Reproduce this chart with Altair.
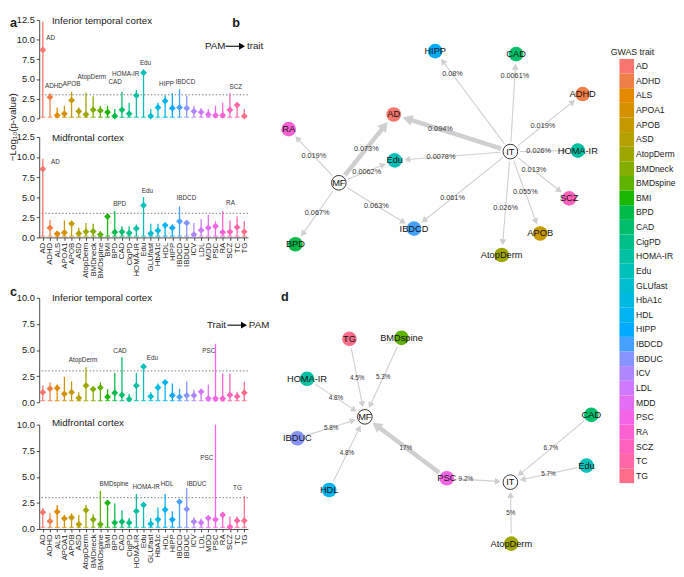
import math
import altair as alt
import pandas as pd

FONT = "Liberation Sans"

traits = ["AD", "ADHD", "ALS", "APOA1", "APOB", "ASD", "AtopDerm", "BMDneck", "BMDspine",
          "BMI", "BPD", "CAD", "CigPD", "HOMA-IR", "Edu", "GLUfast", "HbA1c", "HDL", "HIPP",
          "IBDCD", "IBDUC", "ICV", "LDL", "MDD", "PSC", "RA", "SCZ", "TC", "TG"]

# ---- violin summaries: top of each violin and its widest (modal) point, -log10 p ----
a_it_hi = [12.3, 3.2, 1.4, 1.6, 3.4, 1.4, 3.3, 2.8, 1.6, 1.6, 1.2, 3.4, 2.0, 3.6, 6.2,
           1.2, 2.0, 2.9, 3.2, 3.7, 2.9, 1.6, 1.3, 1.2, 1.6, 2.0, 3.2, 2.0, 1.2]
a_it_mid = [8.7, 2.7, 0.4, 0.6, 2.3, 0.9, 0.5, 1.1, 1.0, 0.8, 0.3, 1.1, 0.6, 2.9, 5.8,
            0.3, 1.4, 2.2, 1.3, 1.4, 1.3, 0.9, 0.8, 0.5, 0.4, 0.4, 1.1, 1.7, 0.3]
a_mf_hi = [9.8, 2.2, 0.8, 2.1, 2.0, 1.2, 1.8, 1.7, 0.8, 2.7, 3.3, 1.4, 1.4, 1.6, 5.0,
           1.7, 1.7, 1.8, 1.6, 3.85, 2.0, 1.8, 2.3, 2.8, 2.0, 3.3, 2.1, 2.6, 2.0]
a_mf_mid = [8.5, 1.2, 0.45, 0.6, 1.7, 0.5, 0.7, 0.75, 0.35, 2.6, 0.65, 0.7, 0.55, 1.1, 4.0,
            0.5, 0.85, 1.5, 1.2, 2.0, 1.8, 0.35, 0.9, 1.2, 1.4, 0.65, 0.7, 1.25, 0.7]
c_it_hi = [1.6, 1.9, 1.7, 2.45, 2.0, 0.95, 3.35, 1.5, 1.9, 1.25, 2.8, 4.3, 0.8, 2.8, 3.6,
           0.95, 1.8, 1.95, 1.8, 1.3, 2.0, 1.2, 1.3, 1.7, 5.6, 2.75, 2.75, 1.0, 1.95]
c_it_mid = [0.95, 1.3, 1.35, 0.8, 0.95, 0.4, 1.6, 1.25, 1.4, 0.5, 0.9, 0.7, 0.3, 1.6, 3.4,
            0.55, 1.4, 1.9, 0.65, 0.5, 0.65, 0.65, 1.0, 0.35, 0.35, 0.35, 0.7, 0.55, 0.9]
c_mf_hi = [2.0, 1.5, 2.3, 1.35, 1.5, 1.35, 2.3, 1.4, 3.65, 2.75, 2.45, 1.8, 1.05, 3.35, 2.45,
           1.05, 2.05, 3.35, 1.7, 2.75, 3.9, 1.1, 1.0, 1.2, 10.0, 1.6, 1.2, 1.2, 3.15]
c_mf_mid = [1.6, 0.75, 1.65, 1.0, 1.1, 0.45, 1.8, 0.9, 0.45, 2.5, 0.6, 0.7, 0.6, 1.7, 2.3,
            0.5, 0.9, 1.85, 0.9, 2.6, 1.9, 0.7, 0.6, 1.05, 0.9, 1.35, 0.2, 0.8, 0.8]
violin_base = 0.15
threshold = 3.0

# significant-trait labels: (trait, height in -log10 p)
a_it_labels = [("AD", 10.2), ("ADHD", 4.1), ("APOB", 4.4), ("AtopDerm", 5.3), ("CAD", 4.6),
               ("HOMA-IR", 5.6), ("Edu", 7.0), ("HIPP", 4.3), ("IBDCD", 4.6), ("SCZ", 4.0)]
a_mf_labels = [("AD", 9.4), ("BPD", 4.1), ("Edu", 5.8), ("IBDCD", 4.9), ("RA", 4.25)]
c_it_labels = [("AtopDerm", 4.0), ("CAD", 4.9), ("Edu", 4.26), ("PSC", 4.9)]
c_mf_labels = [("BMDspine", 4.3), ("HOMA-IR", 4.0), ("HDL", 4.35), ("IBDUC", 4.35),
               ("PSC", 6.75), ("TG", 3.9)]
# small horizontal nudges of the labels (px), like ggrepel placement
nudge = {"a_it": [8, 4, 0, 6, -7, -11, 2, -6, 6, 6],
         "a_mf": [13, 5, 4, 7, 8],
         "c_it": [-3, -2, 9, -7],
         "c_mf": [14, 10, 2, 10, -9, -7]}

# ---- network b: PAM -> trait (layout coordinates) ----
b_nodes = ["MF", "IT", "AD", "Edu", "RA", "BPD", "IBDCD", "HIPP", "CAD", "ADHD",
           "HOMA-IR", "SCZ", "APOB", "AtopDerm"]
b_x = [341, 519, 398, 399, 289, 296, 419, 441, 525, 594, 589, 580, 550, 510]
b_y = [177, 145, 107, 154, 122, 240, 224, 42, 45, 86, 144, 193, 229, 251]
b_src = ["MF"] * 5 + ["IT"] * 10
b_dst = ["RA", "AD", "Edu", "IBDCD", "BPD", "AD", "Edu", "IBDCD", "HIPP", "CAD",
         "ADHD", "HOMA-IR", "SCZ", "APOB", "AtopDerm"]
b_lab = ["0.019%", "0.073%", "0.0062%", "0.063%", "0.067%", "0.094%", "0.0078%", "0.061%",
         "0.08%", "0.0061%", "0.019%", "0.026%", "0.013%", "0.055%", "0.026%"]
b_strong = [0, 1, 0, 0, 0, 1, 0, 0, 0, 0, 0, 0, 0, 0, 0]
b_t = [0.5, 0.5, 0.5, 0.5, 0.5, 0.6, 0.6, 0.6, 0.77, 0.77, 0.45, 0.42, 0.4, 0.5, 0.55]

# ---- network d: trait -> PAM (layout coordinates) ----
d_nodes = ["MF", "IT", "TG", "BMDspine", "HOMA-IR", "IBDUC", "HDL", "PSC", "CAD", "Edu", "AtopDerm"]
d_x = [368, 519, 352, 406, 308, 298, 331, 453, 603, 598, 520]
d_y = [417, 484, 337, 336, 378, 439, 492, 480, 415, 467, 547]
d_src = ["TG", "BMDspine", "HOMA-IR", "IBDUC", "HDL", "PSC", "PSC", "CAD", "Edu", "AtopDerm"]
d_dst = ["MF"] * 6 + ["IT"] * 4
d_lab = ["4.5%", "5.3%", "4.8%", "5.8%", "4.8%", "17%", "9.2%", "6.7%", "5.7%", "5%"]
d_strong = [0, 0, 0, 0, 0, 1, 0, 0, 0, 0]
d_t = [0.5, 0.5, 0.5, 0.5, 0.5, 0.5, 0.3, 0.5, 0.5, 0.5]


# ---- ggplot default hue palette ----
def hcl_hex(h, c=100.0, l=65.0):
    Xn, Yn, Zn = 95.047, 100.0, 108.883
    un = 4 * Xn / (Xn + 15 * Yn + 3 * Zn)
    vn = 9 * Yn / (Xn + 15 * Yn + 3 * Zn)
    hr = math.radians(h)
    U, V = c * math.cos(hr), c * math.sin(hr)
    Y = Yn * ((l + 16) / 116) ** 3 if l > 8 else Yn * l / 903.3
    u = U / (13 * l) + un
    v = V / (13 * l) + vn
    X = 9.0 * Y * u / (4 * v)
    Z = -X / 3 - 5 * Y + 3 * Y / v

    def g(t):
        t = t / 100.0
        t = 1.055 * t ** (1 / 2.4) - 0.055 if t > 0.0031308 else 12.92 * t
        return int(round(min(1, max(0, t)) * 255))

    r = g(3.240479 * X - 1.537150 * Y - 0.498535 * Z)
    gg = g(-0.969256 * X + 1.875992 * Y + 0.041556 * Z)
    b = g(0.055648 * X - 0.204043 * Y + 1.057311 * Z)
    return "#%02X%02X%02X" % (r, gg, b)


palette = [hcl_hex(15 + i * 360 / 29) for i in range(29)]
color_scale = alt.Scale(domain=traits, range=palette)
dummy = pd.DataFrame({"k": [0]})
INK = "#1a1a1a"
PW = 214  # violin panel width


def ann(txt, x, y, size=10, align="left", baseline="middle", weight="normal", angle=0):
    kw = dict(text=txt, align=align, baseline=baseline, fontSize=size, fontWeight=weight, color=INK)
    if angle:
        kw["angle"] = angle
    return alt.Chart(dummy).mark_text(**kw).encode(x=alt.value(x), y=alt.value(y))


def arrow(x1, x2, y):
    line = alt.Chart(dummy).mark_rule(color="black", strokeWidth=1.1).encode(
        x=alt.value(x1), x2=alt.value(x2), y=alt.value(y))
    head = alt.Chart(dummy).mark_point(shape="triangle-right", filled=True, size=50,
                                       color="black", opacity=1).encode(
        x=alt.value(x2), y=alt.value(y))
    return [line, head]


def violin_panel(hi, mid, ymax, yticks, height, labels, nud, extra, yrange=None, show_x=False):
    df = pd.DataFrame({"trait": traits, "hi": hi, "mid": mid, "lo": [violin_base] * len(traits)})
    ysc = dict(domain=[0, ymax], nice=False, zero=False)
    if yrange:
        ysc["range"] = yrange
    yscale = alt.Scale(**ysc)
    xscale = alt.Scale(type="point", padding=0.5, domain=traits)
    if show_x:
        xaxis = alt.Axis(labelAngle=270, labelFontSize=8, tickSize=3, labelPadding=2,
                         domainWidth=0.8, tickWidth=0.8, title=None)
    else:
        xaxis = None
    yaxis = alt.Axis(values=yticks, format=".1f", tickSize=3, labelFontSize=9.5, labelPadding=2,
                     domainWidth=0.8, tickWidth=0.8, grid=False, title=None)

    def X():
        return alt.X("trait:N", scale=xscale, axis=xaxis, title=None)

    def Y(f):
        return alt.Y(f, type="quantitative", scale=yscale, axis=yaxis, title=None)

    col = alt.Color("trait:N", scale=color_scale, legend=None)
    base = alt.Chart(df)
    layers = [
        alt.Chart(pd.DataFrame({"thr": [threshold]})).mark_rule(
            color="#555555", strokeDash=[1.5, 2], strokeWidth=0.8).encode(y=Y("thr")),
        base.mark_rule(strokeWidth=1.3).encode(x=X(), y=Y("lo"), y2="hi:Q", color=col),
        base.mark_tick(thickness=1.3, size=5).encode(x=X(), y=Y("lo"), color=col),
        base.mark_point(shape="diamond", filled=True, size=48, opacity=1).encode(
            x=X(), y=Y("mid"), color=col),
    ]
    for (t, v), dx in zip(labels, nud):
        ld = pd.DataFrame({"trait": [t], "v": [v]})
        layers.append(alt.Chart(ld).mark_text(dx=dx, fontSize=6.5, color="#333333").encode(
            x=X(), y=Y("v"), text="trait:N"))
    layers += extra
    return alt.layer(*layers).properties(width=PW, height=height)


# ---- left column ----
a_top = violin_panel(a_it_hi, a_it_mid, 12.5, [0, 2.5, 5, 7.5, 10, 12.5], 101, a_it_labels,
                     nudge["a_it"],
                     [ann("a", -30, -3, 13, baseline="top", weight="bold"),
                      ann("b", 202, -3, 13, align="center", baseline="top", weight="bold"),
                      ann("Inferior temporal cortex", 13, 1, 10),
                      ann("PAM", 170, 27, 10)] + arrow(191, 208, 27) + [ann("trait", 213, 27, 10),
                      ann("\u2212Log\u2081\u2080(p-value)", -27, 110, 10, align="center", angle=270)])
a_bot = violin_panel(a_mf_hi, a_mf_mid, 12.5, [0, 2.5, 5, 7.5, 10, 12.5], 103, a_mf_labels,
                     nudge["a_mf"], [ann("Midfrontal cortex", 13, 1, 10)], show_x=True)
c_top = violin_panel(c_it_hi, c_it_mid, 10, [0, 2.5, 5, 7.5, 10], 150, c_it_labels,
                     nudge["c_it"],
                     [ann("c", -30, 37, 13, weight="bold"),
                      ann("Inferior temporal cortex", 13, 43, 10),
                      ann("Trait", 172, 71, 10)] + arrow(193, 210, 71) + [ann("PAM", 215, 71, 10)],
                     yrange=[150, 43])
c_bot = violin_panel(c_mf_hi, c_mf_mid, 10, [0, 2.5, 5, 7.5, 10], 111, c_mf_labels,
                     nudge["c_mf"], [ann("Midfrontal cortex", 13, 2, 10)],
                     yrange=[111, 4], show_x=True)

left = alt.vconcat(a_top, a_bot, c_top, c_bot, spacing=19, bounds="flush")

# ---- networks ----
HEAD_SIZES = (50, 130)
NODE_GAP = 10.0


def edge_table(nodes, xs, ys, src, dst, labs, strong, tpos):
    pos = {n: (x, y) for n, x, y in zip(nodes, xs, ys)}
    rows = []
    for s, d, lab, k, t in zip(src, dst, labs, strong, tpos):
        x0, y0 = pos[s]
        x1, y1 = pos[d]
        dx, dy = x1 - x0, y1 - y0
        L = math.hypot(dx, dy)
        ux, uy = dx / L, dy / L
        size = HEAD_SIZES[1] if k else HEAD_SIZES[0]
        h = math.sqrt(3) * (math.sqrt(size) / 2) / 2
        tipx, tipy = x1 - ux * NODE_GAP, y1 - uy * NODE_GAP
        hx, hy = tipx - ux * h, tipy - uy * h
        rows.append(dict(sx=x0 + ux * NODE_GAP, sy=y0 + uy * NODE_GAP, hx=hx, hy=hy,
                         ang=math.degrees(math.atan2(ux, -uy)) % 360,
                         lx=x0 + t * dx, ly=y0 + t * dy, lab=lab, strong=k))
    return pd.DataFrame(rows)


def network(nodes, xs, ys, src, dst, labs, strong, tpos, xdom, ydom, w, h, esize, extra):
    nd = pd.DataFrame({"node": nodes, "x": xs, "y": ys})
    hub = nd["node"].isin(["MF", "IT"])
    ed = edge_table(nodes, xs, ys, src, dst, labs, strong, tpos)
    xs_ = alt.Scale(domain=xdom, nice=False, zero=False)
    ys_ = alt.Scale(domain=ydom, nice=False, zero=False, reverse=True)

    def X(f):
        return alt.X(f, type="quantitative", scale=xs_, axis=None)

    def Y(f):
        return alt.Y(f, type="quantitative", scale=ys_, axis=None)

    edges = alt.Chart(ed).mark_rule(color="#cfcfcf").encode(
        x=X("sx"), y=Y("sy"), x2="hx:Q", y2="hy:Q",
        strokeWidth=alt.StrokeWidth("strong:Q", scale=alt.Scale(domain=[0, 1], range=[1.1, 4.5]),
                                    legend=None))
    heads = alt.Chart(ed).mark_point(shape="triangle-up", filled=True, color="#cfcfcf",
                                     opacity=1).encode(
        x=X("hx"), y=Y("hy"), angle=alt.Angle("ang:Q", scale=None),
        size=alt.Size("strong:Q", scale=alt.Scale(domain=[0, 1], range=list(HEAD_SIZES)),
                      legend=None))
    elab = alt.Chart(ed).mark_text(fontSize=esize, color="#333333").encode(
        x=X("lx"), y=Y("ly"), text="lab:N")
    tnodes = alt.Chart(nd[~hub]).mark_circle(size=225, opacity=1).encode(
        x=X("x"), y=Y("y"), color=alt.Color("node:N", scale=color_scale, legend=None))
    hnodes = alt.Chart(nd[hub]).mark_circle(size=225, opacity=1, fill="white", stroke="black",
                                            strokeWidth=0.8).encode(x=X("x"), y=Y("y"))
    ntext = alt.Chart(nd).mark_text(fontSize=9.5, color="#111111").encode(
        x=X("x"), y=Y("y"), text="node:N")
    return alt.layer(edges, heads, elab, tnodes, hnodes, ntext, *extra).properties(width=w, height=h)


net_b = network(b_nodes, b_x, b_y, b_src, b_dst, b_lab, b_strong, b_t,
                [276, 616], [10, 277], 336, 267, 7.5, [])
net_d = network(d_nodes, d_x, d_y, d_src, d_dst, d_lab, d_strong, d_t,
                [276, 616], [295, 571], 336, 276, 6.5,
                [ann("d", 9, -7, 13, align="center", baseline="top", weight="bold")])
middle = alt.vconcat(net_b, net_d, spacing=18, bounds="flush")

# ---- legend ----
ldf = pd.DataFrame({"trait": traits})
ly = alt.Y("trait:N", axis=None, scale=alt.Scale(domain=traits, range=[40, 475],
                                                  paddingInner=0, paddingOuter=0))
legend = alt.layer(
    alt.Chart(ldf).mark_rect().encode(y=ly, x=alt.value(0), x2=alt.value(15),
                                      color=alt.Color("trait:N", scale=color_scale, legend=None)),
    alt.Chart(ldf).mark_text(align="left", fontSize=8.8, color=INK).encode(
        y=ly, x=alt.value(17), text="trait:N"),
    ann("GWAS trait", -9, 38, 9, baseline="bottom"),
).properties(width=15, height=478)

chart = alt.hconcat(left, middle, legend, spacing=7).properties(
    padding={"left": 0, "top": 0, "right": 0, "bottom": 0}
).configure(font=FONT).configure_view(stroke=None).configure_axis(
    labelColor=INK, domainColor=INK, tickColor=INK, labelFont=FONT)

chart.save("out.html", embed_options={"renderer": "svg", "actions": False})
